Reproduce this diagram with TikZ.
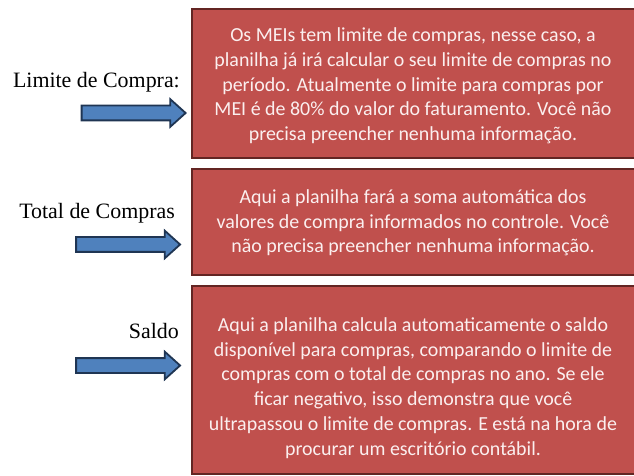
\documentclass[tikz,border=0pt]{standalone}
\usepackage{fontspec}
\setmainfont{Liberation Serif}
\newfontfamily\boxfont{Carlito}
\usetikzlibrary{shapes.arrows}
\definecolor{boxred}{HTML}{C0504D}
\definecolor{boxedge}{HTML}{632523}
\definecolor{boxtext}{HTML}{FBEFEF}
\definecolor{arrblue}{HTML}{4F81BD}
\definecolor{arredge}{HTML}{1F3553}
\tikzset{
  infobox/.style={draw=boxedge, line width=2bp, fill=boxred, inner sep=0pt,
    minimum width=460bp, anchor=north west},
  infotext/.style={text=boxtext, font=\boxfont\fontsize{20}{24.8}\selectfont,
    align=center, inner sep=0pt},
  lbl/.style={font=\fontsize{22}{24}\selectfont, anchor=east, inner sep=0pt},
  blockarrow/.style={single arrow, draw=arredge, line width=1.8bp, fill=arrblue,
    minimum height=104bp, minimum width=26bp, inner sep=6.5bp,
    single arrow head extend=6.5bp, single arrow tip angle=84, anchor=center}
}
\begin{document}
\begin{tikzpicture}[x=1bp,y=-1bp]
\useasboundingbox (0,0) rectangle (634,476);
\fill[white] (0,0) rectangle (634,476);
% boxes
\node[infobox, minimum height=149bp] (b1) at (191,8) {};
\node[infobox, minimum height=106bp] (b2) at (191,168) {};
\node[infobox, minimum height=188bp] (b3) at (191,285) {};
\node[infotext] (t1) at (413,86)
 {Os MEIs tem limite de compras, nesse caso, a\\
  planilha já irá calcular o seu limite de compras no\\
  período. Atualmente o limite para compras por\\
  MEI é de 80\% do valor do faturamento. Você não\\
  precisa preencher nenhuma informação.};
\node[infotext] (t2) at (413,223)
 {Aqui a planilha fará a soma automática dos\\
  valores de compra informados no controle. Você\\
  não precisa preencher nenhuma informação.};
\node[infotext] (t3) at (413,388)
 {Aqui a planilha calcula automaticamente o saldo\\
  disponível para compras, comparando o limite de\\
  compras com o total de compras no ano. Se ele\\
  ficar negativo, isso demonstra que você\\
  ultrapassou o limite de compras. E está na hora de\\
  procurar um escritório contábil.};
% labels
\node[lbl] (l1) at (180,82) {Limite de Compra:};
\node[lbl] (l2) at (175,213) {Total de Compras};
\node[lbl] (l3) at (179,331) {Saldo};
% arrows
\node[blockarrow] (a1) at (129.5,113) {};
\node[blockarrow] (a2) at (124,244.5) {};
\node[blockarrow] (a3) at (124,365.5) {};
\end{tikzpicture}
\end{document}
